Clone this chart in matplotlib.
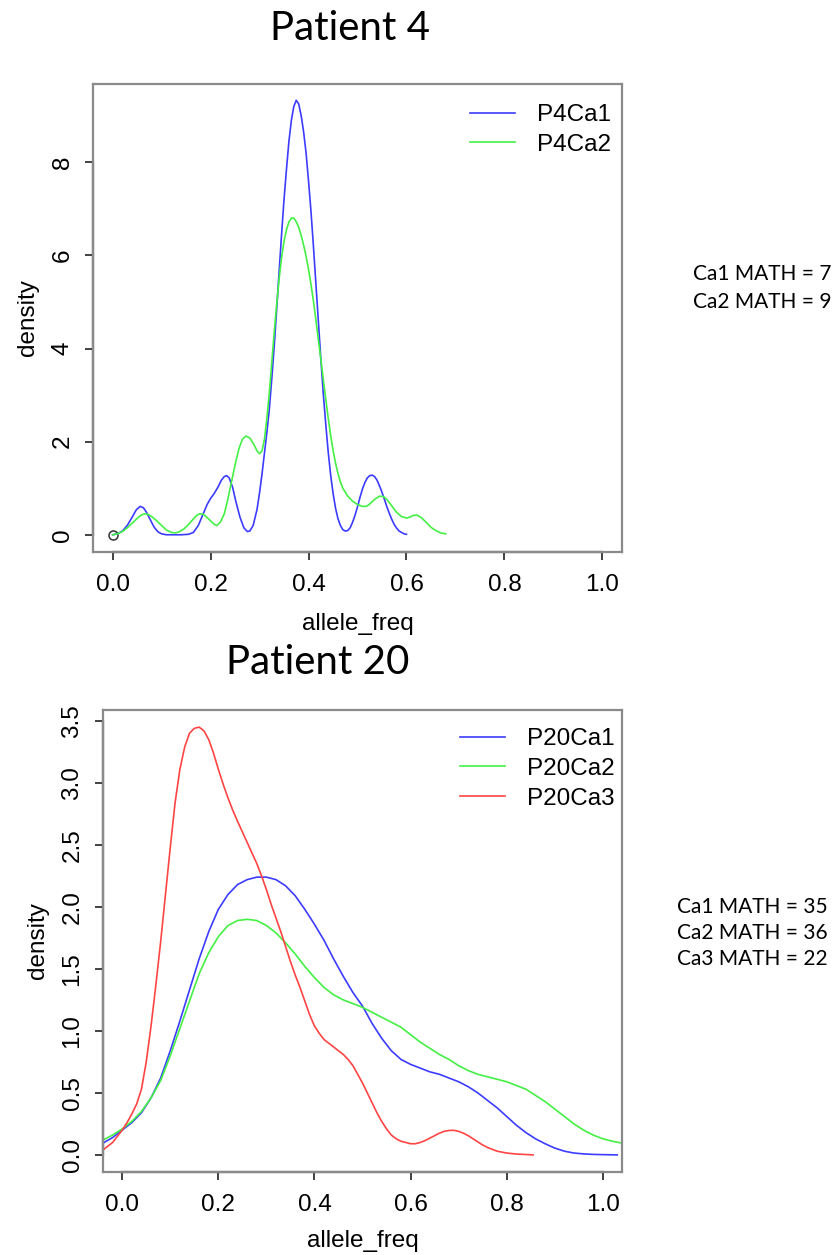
import numpy as np
import matplotlib.pyplot as plt

# ---- Patient 4 density curves ----
p4ca1_x = [0.00, 0.01, 0.02, 0.03, 0.04, 0.048, 0.056, 0.063, 0.07, 0.078, 0.085, 0.093, 0.10,
           0.11, 0.12, 0.14, 0.155, 0.165, 0.175, 0.185, 0.193, 0.20, 0.207, 0.215, 0.222,
           0.228, 0.233, 0.238, 0.245, 0.252, 0.26, 0.268, 0.275, 0.28, 0.287, 0.295, 0.30,
           0.305, 0.31, 0.315, 0.32, 0.325, 0.33, 0.335, 0.34, 0.345, 0.35, 0.355, 0.36,
           0.365, 0.37, 0.375, 0.38, 0.385, 0.39, 0.395, 0.40, 0.405, 0.41, 0.415, 0.42,
           0.425, 0.43, 0.435, 0.44, 0.445, 0.45, 0.455, 0.46, 0.465, 0.47, 0.475, 0.48,
           0.485, 0.49, 0.495, 0.50, 0.505, 0.51, 0.515, 0.52, 0.525, 0.53, 0.535, 0.54,
           0.545, 0.55, 0.555, 0.56, 0.565, 0.57, 0.575, 0.58, 0.585, 0.59, 0.595, 0.60]
p4ca1_y = [0.00, 0.02, 0.08, 0.20, 0.38, 0.53, 0.61, 0.58, 0.47, 0.30, 0.16, 0.06, 0.02,
           0.00, 0.00, 0.00, 0.01, 0.05, 0.20, 0.45, 0.65, 0.78, 0.88, 1.02, 1.17,
           1.25, 1.27, 1.22, 1.02, 0.70, 0.38, 0.15, 0.07, 0.08, 0.20, 0.55, 0.90,
           1.30, 1.75, 2.20, 2.70, 3.35, 4.05, 4.85, 5.65, 6.45, 7.20, 7.85, 8.45,
           8.90, 9.20, 9.33, 9.25, 9.00, 8.65, 8.20, 7.60, 6.95, 6.20, 5.40, 4.60,
           3.80, 3.05, 2.40, 1.80, 1.30, 0.90, 0.58, 0.35, 0.20, 0.11, 0.08, 0.09,
           0.15, 0.27, 0.42, 0.60, 0.80, 0.98, 1.12, 1.22, 1.27, 1.28, 1.25, 1.17,
           1.05, 0.91, 0.76, 0.60, 0.46, 0.33, 0.22, 0.14, 0.08, 0.05, 0.02, 0.01]

p4ca2_x = [0.00, 0.01, 0.02, 0.03, 0.04, 0.05, 0.058, 0.065, 0.072, 0.08, 0.09, 0.10, 0.11,
           0.12, 0.128, 0.135, 0.145, 0.155, 0.165, 0.172, 0.178, 0.185, 0.192, 0.20, 0.208,
           0.213, 0.22, 0.228, 0.235, 0.242, 0.25, 0.258, 0.265, 0.272, 0.28, 0.288, 0.295,
           0.30, 0.305, 0.31, 0.315, 0.32, 0.325, 0.33, 0.335, 0.34, 0.345, 0.35, 0.355,
           0.36, 0.365, 0.37, 0.375, 0.38, 0.385, 0.39, 0.395, 0.40, 0.405, 0.41, 0.415,
           0.42, 0.425, 0.43, 0.435, 0.44, 0.445, 0.45, 0.455, 0.46, 0.465, 0.47, 0.48,
           0.49, 0.50, 0.51, 0.518, 0.525, 0.535, 0.545, 0.553, 0.56, 0.57, 0.58, 0.59,
           0.60, 0.607, 0.615, 0.622, 0.63, 0.64, 0.65, 0.66, 0.67, 0.68]
p4ca2_y = [0.00, 0.02, 0.07, 0.15, 0.25, 0.35, 0.42, 0.45, 0.44, 0.39, 0.30, 0.20, 0.10,
           0.05, 0.04, 0.06, 0.12, 0.22, 0.34, 0.42, 0.45, 0.44, 0.38, 0.30, 0.22,
           0.20, 0.27, 0.45, 0.75, 1.10, 1.50, 1.85, 2.05, 2.12, 2.08, 1.95, 1.80,
           1.74, 1.80, 2.05, 2.50, 3.05, 3.70, 4.35, 4.95, 5.50, 5.95, 6.30, 6.55,
           6.72, 6.80, 6.80, 6.72, 6.60, 6.43, 6.22, 5.98, 5.70, 5.38, 5.02, 4.62,
           4.20, 3.78, 3.35, 2.93, 2.52, 2.15, 1.82, 1.55, 1.32, 1.14, 1.00, 0.83,
           0.72, 0.65, 0.61, 0.61, 0.66, 0.76, 0.83, 0.82, 0.76, 0.62, 0.48, 0.39,
           0.36, 0.38, 0.42, 0.42, 0.37, 0.27, 0.16, 0.09, 0.04, 0.02]

# ---- Patient 20 density curves ----
p20ca1_x = [-0.04, -0.02, 0.00, 0.02, 0.04, 0.06, 0.08, 0.10, 0.12, 0.14, 0.16, 0.18, 0.20,
            0.22, 0.24, 0.26, 0.28, 0.30, 0.32, 0.34, 0.36, 0.38, 0.40, 0.42, 0.44, 0.46,
            0.48, 0.50, 0.52, 0.54, 0.56, 0.58, 0.60, 0.62, 0.64, 0.66, 0.68, 0.70, 0.72,
            0.74, 0.76, 0.78, 0.80, 0.82, 0.84, 0.86, 0.88, 0.90, 0.92, 0.94, 0.96, 0.98,
            1.00, 1.03]
p20ca1_y = [0.095, 0.14, 0.20, 0.26, 0.34, 0.46, 0.62, 0.84, 1.08, 1.33, 1.58, 1.80, 1.98,
            2.10, 2.18, 2.22, 2.24, 2.24, 2.22, 2.17, 2.09, 1.98, 1.86, 1.73, 1.58, 1.44,
            1.31, 1.20, 1.06, 0.94, 0.84, 0.77, 0.73, 0.70, 0.67, 0.65, 0.62, 0.59, 0.55,
            0.50, 0.44, 0.38, 0.31, 0.24, 0.18, 0.13, 0.09, 0.055, 0.03, 0.015, 0.008, 0.004,
            0.002, 0.0]

p20ca2_x = [-0.04, -0.02, 0.00, 0.02, 0.04, 0.06, 0.08, 0.10, 0.12, 0.14, 0.16, 0.18, 0.20,
            0.22, 0.24, 0.26, 0.28, 0.30, 0.32, 0.34, 0.36, 0.38, 0.40, 0.42, 0.44, 0.46,
            0.48, 0.50, 0.52, 0.54, 0.56, 0.58, 0.60, 0.62, 0.64, 0.66, 0.68, 0.70, 0.72,
            0.74, 0.76, 0.78, 0.80, 0.82, 0.84, 0.86, 0.88, 0.90, 0.92, 0.94, 0.96, 0.98,
            1.00, 1.02, 1.04]
p20ca2_y = [0.12, 0.16, 0.21, 0.27, 0.35, 0.46, 0.60, 0.80, 1.02, 1.24, 1.46, 1.63, 1.76,
            1.85, 1.89, 1.90, 1.89, 1.85, 1.79, 1.71, 1.62, 1.52, 1.43, 1.35, 1.29, 1.25,
            1.22, 1.19, 1.15, 1.11, 1.07, 1.03, 0.97, 0.91, 0.86, 0.81, 0.77, 0.72, 0.68,
            0.65, 0.63, 0.61, 0.59, 0.56, 0.53, 0.48, 0.43, 0.37, 0.31, 0.25, 0.20, 0.16,
            0.13, 0.11, 0.095]

p20ca3_x = [-0.04, -0.02, 0.00, 0.01, 0.02, 0.03, 0.04, 0.05, 0.06, 0.07, 0.08, 0.09, 0.10,
            0.11, 0.12, 0.13, 0.14, 0.15, 0.16, 0.17, 0.18, 0.19, 0.20, 0.21, 0.22, 0.23,
            0.24, 0.26, 0.28, 0.29, 0.30, 0.31, 0.32, 0.33, 0.34, 0.35, 0.36, 0.37, 0.38,
            0.39, 0.40, 0.41, 0.42, 0.43, 0.44, 0.45, 0.46, 0.47, 0.48, 0.49, 0.50, 0.51,
            0.52, 0.53, 0.54, 0.55, 0.56, 0.57, 0.58, 0.59, 0.60, 0.61, 0.62, 0.63, 0.64,
            0.65, 0.66, 0.67, 0.68, 0.69, 0.70, 0.71, 0.72, 0.73, 0.74, 0.75, 0.76, 0.77,
            0.78, 0.80, 0.82, 0.84, 0.855]
p20ca3_y = [0.04, 0.10, 0.20, 0.26, 0.33, 0.41, 0.53, 0.75, 1.04, 1.37, 1.72, 2.10, 2.48,
            2.84, 3.11, 3.29, 3.40, 3.44, 3.45, 3.42, 3.35, 3.24, 3.11, 2.99, 2.88, 2.78,
            2.69, 2.52, 2.35, 2.25, 2.14, 2.02, 1.91, 1.80, 1.68, 1.56, 1.45, 1.35, 1.24,
            1.13, 1.04, 0.98, 0.93, 0.90, 0.87, 0.84, 0.81, 0.77, 0.72, 0.65, 0.58, 0.50,
            0.42, 0.34, 0.27, 0.21, 0.16, 0.13, 0.11, 0.10, 0.09, 0.09, 0.10, 0.115, 0.135,
            0.155, 0.175, 0.19, 0.197, 0.198, 0.19, 0.175, 0.155, 0.13, 0.105, 0.08, 0.06,
            0.045, 0.03, 0.015, 0.007, 0.003, 0.0]

p4_labels = ["P4Ca1", "P4Ca2"]
p20_labels = ["P20Ca1", "P20Ca2", "P20Ca3"]
p4_math = ["Ca1 MATH = 7", "Ca2 MATH = 9"]
p20_math = ["Ca1 MATH = 35", "Ca2 MATH = 36", "Ca3 MATH = 22"]

BLUE, GREEN, RED = "#3c3cff", "#44f044", "#ff4444"
R_FONT = "Liberation Sans"
TXT_FONT = "Lato"
FS = 17.5

W, H = 840, 1255
fig = plt.figure(figsize=(W / 100, H / 100), dpi=100)


def px_axes(l, t, r, b):
    return fig.add_axes([l / W, 1 - b / H, (r - l) / W, (b - t) / H])


def r_style(ax, xticks, yticks, yfmt, xpad):
    for s in ax.spines.values():
        s.set_color("#8a8a8a")
        s.set_linewidth(1.6)
    ax.set_xticks(xticks)
    ax.set_xticklabels([f"{v:.1f}" for v in xticks], fontfamily=R_FONT, fontsize=FS)
    ax.set_yticks(yticks)
    ax.set_yticklabels([yfmt(v) for v in yticks], fontfamily=R_FONT, fontsize=FS,
                       rotation=90, va="center")
    ax.tick_params(direction="out", length=6, width=1.3, color="#333333")
    ax.tick_params(axis="x", pad=10)
    ax.tick_params(axis="y", pad=8)
    # R draws the axis line only between the first and last tick
    y0 = ax.get_ylim()[0]
    x0 = ax.get_xlim()[0]
    ax.plot([xticks[0], xticks[-1]], [y0, y0], color="#333333", lw=1.6, clip_on=False)
    ax.plot([x0, x0], [yticks[0], yticks[-1]], color="#333333", lw=1.6, clip_on=False)
    ax.set_ylabel("density", fontfamily=R_FONT, fontsize=FS, labelpad=9)
    ax.set_xlabel("allele_freq", fontfamily=R_FONT, fontsize=FS, labelpad=xpad)


def legend(ax, x, y):
    ax.legend(loc="upper left", bbox_to_anchor=(x / W, 1 - y / H),
              bbox_transform=fig.transFigure, frameon=False, borderpad=0,
              borderaxespad=0, handlelength=1.85, handletextpad=0.9,
              labelspacing=0.32, prop={"family": R_FONT, "size": FS})


# ---- Patient 4 ----
ax1 = px_axes(93, 84, 622, 552)
ax1.set_xlim(-0.04, 1.04)
ax1.set_ylim(-0.37, 9.68)
ax1.plot([0], [0], "o", mfc="none", mec="#333333", ms=6.5, mew=1.1)
ax1.plot(p4ca1_x, p4ca1_y, color=BLUE, lw=1.2, label=p4_labels[0])
ax1.plot(p4ca2_x, p4ca2_y, color=GREEN, lw=1.2, label=p4_labels[1])
r_style(ax1, [0.0, 0.2, 0.4, 0.6, 0.8, 1.0], [0, 2, 4, 6, 8], lambda v: f"{v:d}", 12)
legend(ax1, 470, 104)

# ---- Patient 20 ----
ax2 = px_axes(103, 710, 622, 1172)
ax2.set_xlim(-0.04, 1.04)
ax2.set_ylim(-0.138, 3.588)
ax2.plot(p20ca1_x, p20ca1_y, color=BLUE, lw=1.2, label=p20_labels[0])
ax2.plot(p20ca2_x, p20ca2_y, color=GREEN, lw=1.2, label=p20_labels[1])
ax2.plot(p20ca3_x, p20ca3_y, color=RED, lw=1.2, label=p20_labels[2])
r_style(ax2, [0.0, 0.2, 0.4, 0.6, 0.8, 1.0],
        [0.0, 0.5, 1.0, 1.5, 2.0, 2.5, 3.0, 3.5], lambda v: f"{v:.1f}", 10)
legend(ax2, 460, 728)

# ---- titles and side notes ----
fig.text(350 / W, 1 - 28 / H, "Patient 4", ha="center", va="center",
         fontfamily=TXT_FONT, fontsize=29)
fig.text(318 / W, 1 - 662 / H, "Patient 20", ha="center", va="center",
         fontfamily=TXT_FONT, fontsize=29)
for i, t in enumerate(p4_math):
    fig.text(693 / W, 1 - (274 + 28 * i) / H, t, ha="left", va="center",
             fontfamily=TXT_FONT, fontsize=15)
for i, t in enumerate(p20_math):
    fig.text(677 / W, 1 - (907 + 26 * i) / H, t, ha="left", va="center",
             fontfamily=TXT_FONT, fontsize=15)

fig.savefig("out.png", dpi=100)
